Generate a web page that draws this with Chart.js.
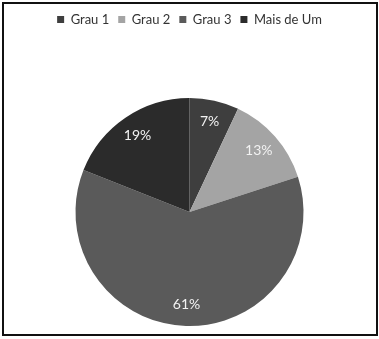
<!DOCTYPE html>
<html>
<head>
<meta charset="utf-8">
<script src="https://cdn.jsdelivr.net/npm/chart.js@4/dist/chart.umd.min.js"></script>
<style>
  html, body { margin: 0; padding: 0; background: #fff; }
  body { width: 379px; height: 339px; position: relative; overflow: hidden; }
  #frame {
    position: absolute; left: 2px; top: 2px; width: 376px; height: 334px;
    box-sizing: border-box; border: 2px solid #111; background: #fff;
  }
  #wrap { position: absolute; left: 0; top: 0; width: 379px; height: 339px; }
</style>
</head>
<body>
<div id="frame"></div>
<div id="wrap"><canvas id="chart" width="379" height="339"></canvas></div>
<script>
// Distribution by degree
const categories = ['Grau 1', 'Grau 2', 'Grau 3', 'Mais de Um'];
const percentages = [7, 13, 61, 19];
const sliceColors = ['#3e3e3e', '#a4a4a4', '#5a5a5a', '#2b2b2b'];

// Push the plot area below the legend by enlarging the legend box
const legendSpacer = {
  id: 'legendSpacer',
  beforeInit(chart) {
    const origFit = chart.legend.fit;
    chart.legend.fit = function () {
      origFit.call(this);
      this.height += 62;
    };
  }
};

// Percentage labels inside each slice
const sliceLabels = {
  id: 'sliceLabels',
  afterDatasetsDraw(chart) {
    const ctx = chart.ctx;
    const meta = chart.getDatasetMeta(0);
    ctx.save();
    ctx.fillStyle = '#f2f2f2';
    ctx.font = '14px Lato, sans-serif';
    ctx.textAlign = 'center';
    ctx.textBaseline = 'middle';
    meta.data.forEach((arc, i) => {
      const p = arc.getProps(['x', 'y', 'startAngle', 'endAngle', 'outerRadius'], true);
      const mid = (p.startAngle + p.endAngle) / 2;
      const r = p.outerRadius * 0.81;
      ctx.fillText(percentages[i] + '%', p.x + Math.cos(mid) * r, p.y + Math.sin(mid) * r);
    });
    ctx.restore();
  }
};

new Chart(document.getElementById('chart'), {
  type: 'pie',
  data: {
    labels: categories,
    datasets: [{
      data: percentages,
      backgroundColor: sliceColors,
      borderWidth: 0
    }]
  },
  options: {
    responsive: false,
    animation: false,
    layout: { padding: { top: 4, bottom: 13, left: 0, right: 0 } },
    plugins: {
      legend: {
        position: 'top',
        labels: {
          boxWidth: 7,
          boxHeight: 7,
          padding: 9,
          color: '#333333',
          font: { family: 'Lato, sans-serif', size: 13 }
        }
      },
      tooltip: { enabled: false }
    }
  },
  plugins: [legendSpacer, sliceLabels]
});
</script>
</body>
</html>
